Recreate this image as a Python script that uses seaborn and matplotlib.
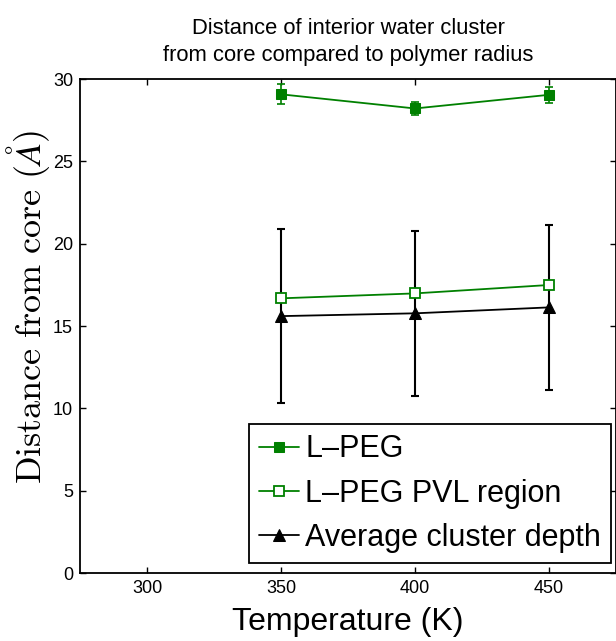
import numpy as np
import pandas as pd
import seaborn as sns
import matplotlib.pyplot as plt

sns.set_style("ticks")
plt.rcParams['font.family'] = ['Liberation Sans', 'DejaVu Sans']
plt.rcParams['mathtext.fontset'] = 'cm'
plt.rcParams['text.color'] = 'black'
plt.rcParams['axes.labelcolor'] = 'black'
plt.rcParams['xtick.color'] = 'black'
plt.rcParams['ytick.color'] = 'black'
plt.rcParams['axes.edgecolor'] = 'black'

temps = [350, 400, 450]
lpeg = [29.07, 28.21, 29.04]
lpeg_err = [0.6, 0.4, 0.5]
pvl = [16.68, 16.98, 17.49]
depth = [15.6, 15.77, 16.13]
depth_err = [5.3, 5.0, 5.0]

labels = ['L\u2013PEG', 'L\u2013PEG PVL region', 'Average cluster depth']

fig = plt.figure(figsize=(6.16, 6.41), dpi=100)
ax = fig.add_axes([80 / 616, 1 - 573 / 641, 536 / 616, 494 / 641])

green = '#008000'
ax.errorbar(temps, lpeg, yerr=lpeg_err, fmt='none', ecolor=green, elinewidth=1.2, capsize=3, capthick=1.2)
ax.errorbar(temps, depth, yerr=depth_err, fmt='none', ecolor='black', elinewidth=1.5, capsize=3, capthick=1.5)

sns.lineplot(x=temps, y=lpeg, ax=ax, color=green, marker='s', markersize=7,
             markeredgecolor=green, markerfacecolor=green, linewidth=1.3, label=labels[0])
sns.lineplot(x=temps, y=pvl, ax=ax, color=green, marker='s', markersize=7,
             markeredgecolor=green, markerfacecolor='white', markeredgewidth=1.3, linewidth=1.3, label=labels[1])
sns.lineplot(x=temps, y=depth, ax=ax, color='black', marker='^', markersize=9,
             markeredgecolor='black', markerfacecolor='black', linewidth=1.3, label=labels[2])

ax.set_xlim(275, 475)
ax.set_ylim(0, 30)
ax.set_xticks([300, 350, 400, 450])
ax.set_yticks(np.arange(0, 31, 5))
ax.tick_params(direction='in', top=True, right=True, length=4, width=1, labelsize=13, pad=5)
for s in ax.spines.values():
    s.set_linewidth(1.3)
    s.set_visible(True)

ax.set_xlabel('Temperature (K)', fontsize=23, labelpad=7)
ax.set_ylabel(r'$\mathrm{Distance\ from\ core}\ (\AA)$', fontsize=26)
ax.yaxis.set_label_coords(-0.052, 0.538)
ax.set_title('Distance of interior water cluster\nfrom core compared to polymer radius',
             fontsize=15.8, pad=13, linespacing=1.4)

leg = ax.legend(loc='lower right', bbox_to_anchor=(0.991, 0.02), borderaxespad=0, fontsize=22,
                frameon=True, fancybox=False, framealpha=1, edgecolor='black',
                handlelength=1.3, handletextpad=0.2, borderpad=0.33, labelspacing=0.47)
leg.get_frame().set_linewidth(1.3)

fig.savefig('out.png', dpi=100)
